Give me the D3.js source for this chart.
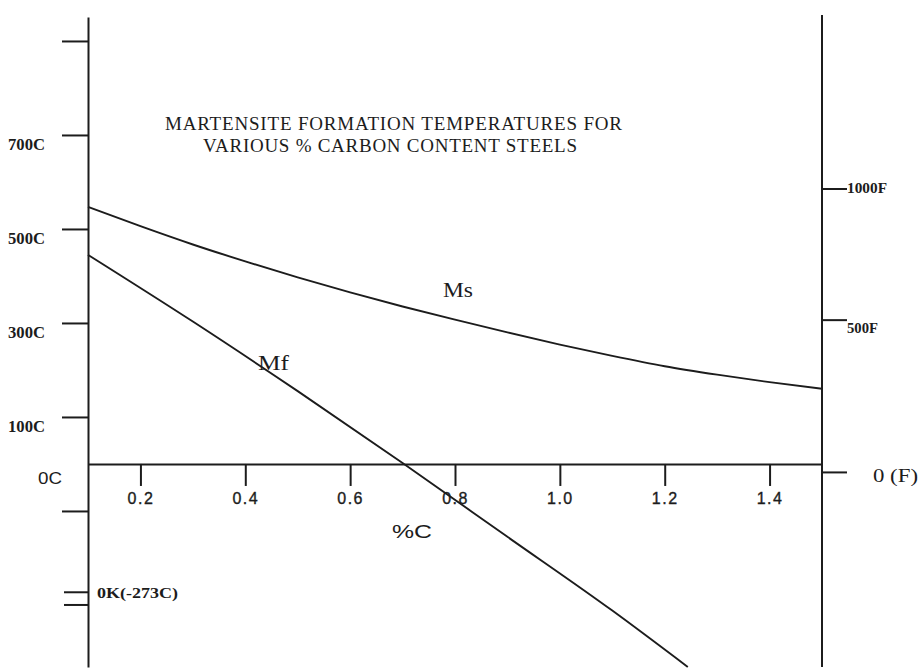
<!DOCTYPE html>
<html>
<head>
<meta charset="utf-8">
<script src="https://cdn.jsdelivr.net/npm/d3@7"></script>
<style>
  html, body { margin: 0; padding: 0; background: #fff; }
  svg { display: block; }
</style>
</head>
<body>
<svg id="chart" width="922" height="670"></svg>
<script>
// Carbon content (%C) and martensite start / finish temperatures (°C)
const msPctC = [0.1, 0.2, 0.3, 0.4, 0.5, 0.6, 0.7, 0.8, 0.9, 1.0, 1.1, 1.2, 1.3, 1.4, 1.5];
const msTemp = [547, 506, 467, 431, 397, 365, 335, 307, 280, 254, 230, 208, 190, 174, 160];
const mfPctC = [0.1, 0.3, 0.5, 0.7, 0.9, 1.1, 1.244];
const mfTemp = [445, 303, 155, 2, -155, -312, -432];

// Axis ticks
const xTicks = [0.2, 0.4, 0.6, 0.8, 1.0, 1.2, 1.4];
const cTicks = [900, 700, 500, 300, 100, -100];
const cTickLabels = ["", "700C", "500C", "300C", "100C", ""];
const absZeroTicks = [-273, -300];
const fTickLabels = ["1000F", "500F", "0 (F)"];
const fTickAtC = [585, 306, -18];

const titleLines = ["MARTENSITE FORMATION TEMPERATURES FOR", "VARIOUS % CARBON CONTENT STEELS"];

const ink = "#1c1c1c";
const svg = d3.select("#chart");

const x = d3.scaleLinear().domain([0.1, 1.5]).range([88, 822]);
const y = d3.scaleLinear().domain([-432, 951]).range([667, 17]);

// Left (°C) axis
const leftAxis = d3.axisLeft(y).tickValues(cTicks).tickSize(26).tickSizeOuter(0).tickFormat("");
const gl = svg.append("g").attr("transform", `translate(${x(0.1)},0)`).call(leftAxis);
gl.selectAll("path, line").attr("stroke", ink).attr("stroke-width", 2);

// Break marks at absolute zero
svg.append("g").selectAll("line").data(absZeroTicks).join("line")
  .attr("x1", x(0.1) - 24).attr("x2", x(0.1))
  .attr("y1", d => y(d)).attr("y2", d => y(d))
  .attr("stroke", ink).attr("stroke-width", 2);

// Right (°F) axis
svg.append("line")
  .attr("x1", x(1.5)).attr("x2", x(1.5)).attr("y1", 15).attr("y2", 667)
  .attr("stroke", ink).attr("stroke-width", 2);
svg.append("g").selectAll("line").data(fTickAtC).join("line")
  .attr("x1", x(1.5)).attr("x2", x(1.5) + 25)
  .attr("y1", d => y(d)).attr("y2", d => y(d))
  .attr("stroke", ink).attr("stroke-width", 2);

// Horizontal %C axis along 0 °C
const bottomAxis = d3.axisBottom(x).tickValues(xTicks).tickSize(22).tickSizeOuter(0)
  .tickPadding(7).tickFormat(d3.format(".1f"));
const gx = svg.append("g").attr("transform", `translate(0,${y(0)})`).call(bottomAxis);
gx.selectAll("path, line").attr("stroke", ink).attr("stroke-width", 2);
gx.selectAll("text")
  .attr("font-family", "'Liberation Sans', Arial, sans-serif")
  .attr("font-size", 16).attr("letter-spacing", 1.5).attr("fill", ink)
  .attr("stroke", ink).attr("stroke-width", 0.35);

// Curves
const line = d3.line().x(d => x(d[0])).y(d => y(d[1])).curve(d3.curveMonotoneX);
svg.append("path").datum(d3.zip(msPctC, msTemp)).attr("d", line)
  .attr("fill", "none").attr("stroke", ink).attr("stroke-width", 1.9);
svg.append("path").datum(d3.zip(mfPctC, mfTemp)).attr("d", line)
  .attr("fill", "none").attr("stroke", ink).attr("stroke-width", 1.9);

// Text helpers
const serif = "'Liberation Serif', 'Times New Roman', serif";
const sans = "'Liberation Sans', Arial, sans-serif";
function label(txt, px, py, size, opts = {}) {
  const t = svg.append("text").attr("x", px).attr("y", py)
    .attr("font-family", opts.family || serif).attr("font-size", size)
    .attr("font-weight", opts.weight || "normal").attr("fill", ink)
    .attr("text-anchor", opts.anchor || "start").text(txt);
  if (opts.len) t.attr("textLength", opts.len).attr("lengthAdjust", opts.adjust || "spacingAndGlyphs");
  return t;
}

// °C tick labels, set just below their ticks
cTicks.forEach((v, i) => {
  if (cTickLabels[i]) label(cTickLabels[i], 8, y(v) + 15, 16, { weight: "bold", len: 37 });
});
label("0C", 38, y(0) + 20, 17, { family: sans, len: 24 });
label("0K(-273C)", x(0.1) + 9, y(-273) + 6, 14, { weight: "bold", len: 81 });

// °F tick labels
fTickLabels.forEach((t, i) => {
  if (t === "0 (F)") label(t, x(1.5) + 51, y(fTickAtC[i]) + 10, 18, { len: 45 });
  else label(t, x(1.5) + 25, y(fTickAtC[i]) + (i === 0 ? 4 : 13), 15,
             { weight: "bold", len: t.length === 5 ? 40 : 31 });
});

// Axis title, curve names, chart title
label("%C", 412, 538, 18, { family: sans, anchor: "middle", len: 40 });
label("Ms", 443, 297, 20, { len: 30 });
label("Mf", 258, 370, 20, { len: 31 });
label(titleLines[0], 165, 130, 19, { len: 457, adjust: "spacing" });
label(titleLines[1], 203, 152, 19, { len: 374, adjust: "spacing" });
</script>
</body>
</html>
